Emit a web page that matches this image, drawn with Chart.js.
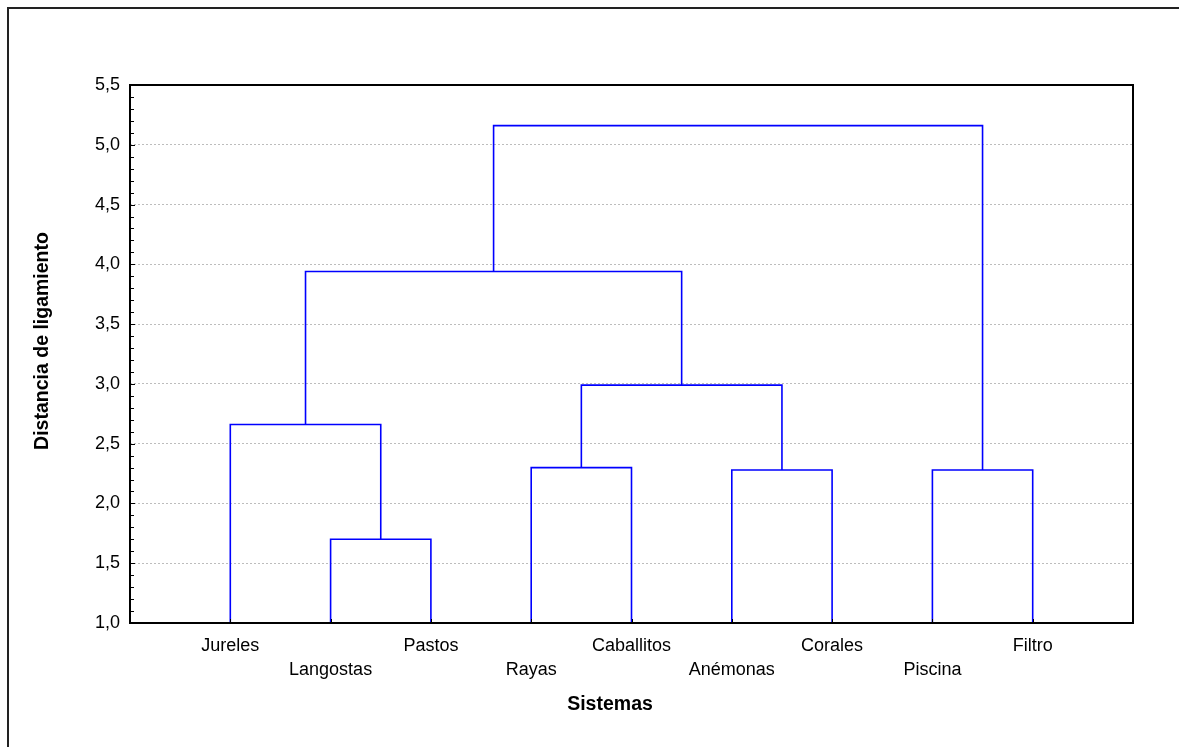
<!DOCTYPE html>
<html>
<head>
<meta charset="utf-8">
<title>Dendrograma - Sistemas</title>
<script src="https://cdn.jsdelivr.net/npm/chart.js@4.4.0/dist/chart.umd.min.js"></script>
<style>
    html, body { margin: 0; padding: 0; background: #fff; overflow: hidden; }
    #wrap { position: relative; width: 1179px; height: 747px; }
    #frame { position: absolute; left: 7px; top: 7px; width: 1300px; height: 900px;
             border-left: 2px solid #222; border-top: 2px solid #222; }
    canvas { position: absolute; left: 0; top: 0; }
</style>
</head>
<body>
<div id="wrap">
    <div id="frame"></div>
    <canvas id="dendroChart" width="1179" height="747"></canvas>
</div>
<script>
// ── Datos del dendrograma ──
const leafNames = ['Jureles', 'Langostas', 'Pastos', 'Rayas', 'Caballitos', 'Anémonas', 'Corales', 'Piscina', 'Filtro'];

// Uniones: nodo izquierdo, nodo derecho, distancia (nodos 0-8 = hojas, 9+ = uniones en orden)
const mergeLeft    = [1,    3,    5,    7,    0,    10,   13,   15];
const mergeRight   = [2,    4,    6,    8,    9,    11,   14,   12];
const mergeHeights = [1.70, 2.30, 2.28, 2.28, 2.66, 2.99, 3.94, 5.16];

const yTickValues = [1.0, 1.5, 2.0, 2.5, 3.0, 3.5, 4.0, 4.5, 5.0, 5.5];
const yTickLabels = ['1,0', '1,5', '2,0', '2,5', '3,0', '3,5', '4,0', '4,5', '5,0', '5,5'];

const xTitle = 'Sistemas';
const yTitle = 'Distancia de ligamiento';

const FONT = "'Liberation Sans Narrow', 'Arial Narrow', 'Liberation Sans', Arial, sans-serif";
const LINE_BLUE = '#0000ff';

// posiciones x de cada nodo (hojas 1..9, uniones = punto medio)
const nodeX = leafNames.map((_, i) => i + 1);
const nodeH = leafNames.map(() => yTickValues[0]);
mergeLeft.forEach((l, i) => {
    const r = mergeRight[i];
    nodeX.push((nodeX[l] + nodeX[r]) / 2);
    nodeH.push(mergeHeights[i]);
});

const datasets = mergeLeft.map((l, i) => {
    const r = mergeRight[i];
    const h = mergeHeights[i];
    return {
        data: [
            { x: nodeX[l], y: nodeH[l] },
            { x: nodeX[l], y: h },
            { x: nodeX[r], y: h },
            { x: nodeX[r], y: nodeH[r] }
        ],
        showLine: true,
        borderColor: LINE_BLUE,
        borderWidth: 1.6,
        pointRadius: 0,
        fill: false,
        tension: 0
    };
});

// marco, marcas menores y títulos
const framePlugin = {
    id: 'framePlugin',
    afterDraw(chart) {
        const { ctx, chartArea: a, scales } = chart;
        const y = scales.y, x = scales.x;
        ctx.save();

        // marcas menores del eje Y (hacia dentro)
        ctx.strokeStyle = '#000';
        ctx.lineWidth = 1;
        for (let k = 0; k <= 45; k++) {
            const v = 1 + k * 0.1;
            const py = Math.round(y.getPixelForValue(v)) + 0.5;
            const len = (k % 5 === 0) ? 5 : 4;
            ctx.beginPath();
            ctx.moveTo(a.left, py);
            ctx.lineTo(a.left + len, py);
            ctx.stroke();
        }
        // marcas del eje X en cada hoja
        leafNames.forEach((_, i) => {
            const px = Math.round(x.getPixelForValue(i + 1)) + 0.5;
            ctx.beginPath();
            ctx.moveTo(px, a.bottom);
            ctx.lineTo(px, a.bottom - 4);
            ctx.stroke();
        });

        // marco del área de trazado
        ctx.lineWidth = 2;
        ctx.strokeStyle = '#000';
        ctx.strokeRect(a.left, a.top, a.right - a.left, a.bottom - a.top);

        // títulos de ejes
        ctx.fillStyle = '#000';
        ctx.font = `bold 19.5px ${FONT}`;
        ctx.textAlign = 'center';
        ctx.textBaseline = 'middle';
        ctx.fillText(xTitle, 610, 705);

        ctx.translate(43, 341);
        ctx.rotate(-Math.PI / 2);
        ctx.fillText(yTitle, 0, 0);
        ctx.restore();
    }
};

Chart.defaults.font.family = FONT;
Chart.defaults.color = '#000';

new Chart(document.getElementById('dendroChart'), {
    type: 'scatter',
    data: { datasets },
    options: {
        responsive: false,
        animation: false,
        devicePixelRatio: 1,
        layout: { padding: { top: 85, right: 46, left: 0, bottom: 0 } },
        plugins: { legend: { display: false }, tooltip: { enabled: false } },
        scales: {
            x: {
                type: 'linear',
                min: 0,
                max: leafNames.length + 1,
                grid: { display: false, drawTicks: false },
                border: { display: false },
                afterBuildTicks: (scale) => {
                    scale.ticks = leafNames.map((_, i) => ({ value: i + 1 }));
                },
                afterFit: (scale) => { scale.height = 124; },
                ticks: {
                    autoSkip: false,
                    maxRotation: 0,
                    minRotation: 0,
                    padding: 11,
                    font: { size: 18, lineHeight: 1.33 },
                    callback: (value) => {
                        const idx = Math.round(value) - 1;
                        const name = leafNames[idx] || '';
                        return idx % 2 === 1 ? ['', name] : name;
                    }
                }
            },
            y: {
                min: yTickValues[0],
                max: yTickValues[yTickValues.length - 1],
                afterBuildTicks: (scale) => {
                    scale.ticks = yTickValues.map(v => ({ value: v }));
                },
                afterFit: (scale) => { scale.width = 130; },
                grid: { color: '#bdbdbd', lineWidth: 1, drawTicks: false },
                border: { display: false, dash: [2, 2] },
                ticks: {
                    padding: 10,
                    font: { size: 18 },
                    callback: (value) => {
                        const idx = yTickValues.findIndex(v => Math.abs(v - value) < 1e-6);
                        return idx >= 0 ? yTickLabels[idx] : '';
                    }
                }
            }
        }
    },
    plugins: [framePlugin]
});
</script>
</body>
</html>
